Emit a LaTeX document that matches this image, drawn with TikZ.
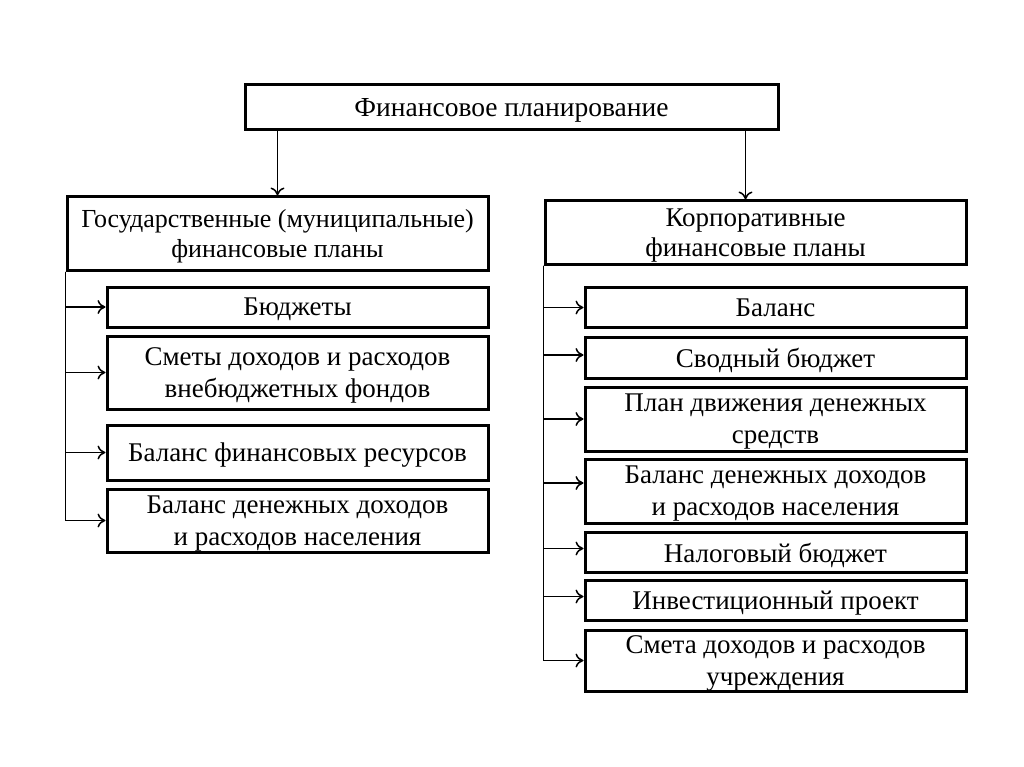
\documentclass[tikz,border=0pt]{standalone}
\usepackage{fontspec}
\setmainfont{Liberation Serif}
\usetikzlibrary{arrows.meta}

\begin{document}
\begin{tikzpicture}
[x=1pt,y=-1pt,
  boxDecorate/.style={shape=rectangle,draw,line width=3pt,inner sep=0pt,align=center,%
    text depth=0pt,font=\fontsize{27}{32}\selectfont,minimum width=381pt},%
  lineDecorate/.style={line width=1.5pt,-{To[length=8pt,width=14pt,line width=1.5pt]}}]
\useasboundingbox (0,0) rectangle (1024,767);
%% top and group boxes
\node (top) at (511.5,107.5) [boxDecorate,minimum width=533pt,minimum height=45pt,
  font=\fontsize{27.5}{32}\selectfont] {Финансовое планирование};
\node (gov) at (277.5,233.5) [boxDecorate,minimum width=421pt,minimum height=73pt,
  font=\fontsize{26}{30}\selectfont]
  {Государственные (муниципальные)\\финансовые планы};
\node (corp) at (755.5,232.5) [boxDecorate,minimum width=421pt,minimum height=63pt,
  font=\fontsize{27}{30}\selectfont]
  {Корпоративные\\финансовые планы};
%% left items
\foreach \nodename/\y/\h/\txt in {
  l1/307/40/{Бюджеты},
  l2/372.5/73/{Сметы доходов и расходов\\внебюджетных фондов},
  l3/452.5/55/{Баланс финансовых ресурсов},
  l4/520.5/63/{Баланс денежных доходов\\и расходов населения}}
{
  \node (\nodename) at (297.5,\y) [boxDecorate,minimum height=\h pt] {\txt};
}
%% right items
\foreach \nodename/\y/\h/\txt in {
  r1/307.5/40/{Баланс},
  r2/358/41/{Сводный бюджет},
  r3/419/64/{План движения денежных\\средств},
  r4/491/64/{Баланс денежных доходов\\и расходов населения},
  r5/552.5/40/{Налоговый бюджет},
  r6/600.5/40/{Инвестиционный проект},
  r7/660.5/61/{Смета доходов и расходов\\учреждения}}
{
  \node (\nodename) at (775.5,\y) [boxDecorate,minimum height=\h pt] {\txt};
}
%% edges or lines
\coordinate (corpIn) at ([xshift=-10pt]corp.north);
\draw[lineDecorate] (top.south -| gov.north) -- (gov.north);
\draw[lineDecorate] (top.south -| corpIn) -- (corpIn);
\foreach \endnode in {l1,l2,l3,l4}
  \draw[lineDecorate] (gov.south west) |- (\endnode.west);
\foreach \endnode/\s in {r1/0,r2/3,r3/0,r4/8,r5/4,r6/4,r7/0}
  \draw[lineDecorate] (corp.south west) |- ([yshift=\s pt]\endnode.west);
\end{tikzpicture}
\end{document}
